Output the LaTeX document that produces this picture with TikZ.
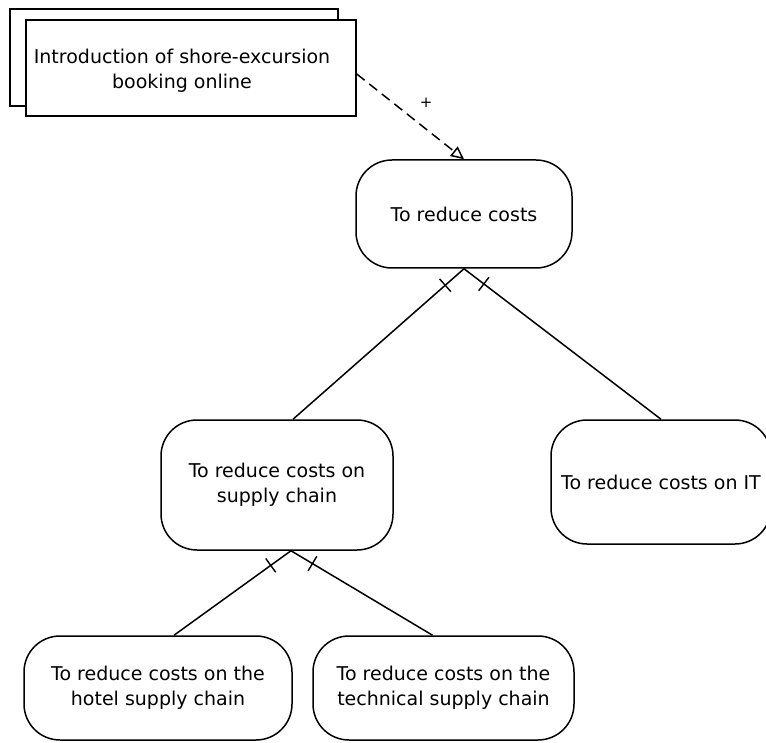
\documentclass[tikz,border=0pt]{standalone}
\usepackage{fontspec}
\setmainfont{DejaVu Sans}
\usetikzlibrary{arrows.meta,decorations.markings}
\begin{document}
\begin{tikzpicture}[x=1pt,y=-1pt, line width=1.5pt,
  lbl/.style={font=\fontsize{19}{25}\selectfont, align=center, inner sep=0pt},
  goal/.style={draw, rounded corners=36pt, lbl, minimum width=#1},
  goal/.default=216pt,
  task/.style={draw, fill=white, inner sep=0pt},
  ticked/.style={decoration={markings, mark=at position 25pt with {\draw[line width=1.4pt] (0,-8.5pt) -- (0,8.5pt);}}, postaction=decorate},
  infl/.style={dashed, dash pattern=on 10pt off 6pt, -{Triangle[open, length=13pt, width=12pt]}}]
\useasboundingbox (0,0) rectangle (766,743);
% task (stacked rectangles)
\node[task, minimum width=328pt, minimum height=97pt] (back) at (174,57.5) {};
\node[task, minimum width=330pt, minimum height=96pt] (front) at (191,68) {};
\node[lbl] (introtext) at (182,71) {Introduction of shore-excursion\\booking online};
% goals
\node[goal=216pt, minimum height=108pt] (top) at (464,214) {To reduce costs};
\node[goal=232pt, minimum height=130pt] (sc) at (277,485) {To reduce costs on\\supply chain};
\node[goal=220pt, minimum height=124pt] (it) at (661,482) {To reduce costs on IT};
\node[goal=268pt, minimum height=104pt] (hotel) at (158,688) {To reduce costs on the\\hotel supply chain};
\node[goal=261pt, minimum height=104pt] (tech) at (443.5,688) {To reduce costs on the\\technical supply chain};
% influence
\draw[infl] ([yshift=-6pt]front.east) -- (top.north) node[pos=0.34, right=26pt, inner sep=0pt, font=\fontsize{15}{15}\selectfont] (plus) {+};
% decompositions
\draw[ticked] (top.south) -- ([xshift=16pt]sc.north);
\draw[ticked] (top.south) -- (it.north);
\draw[ticked] ([xshift=14pt]sc.south) -- ([xshift=16pt]hotel.north);
\draw[ticked] ([xshift=14pt]sc.south) -- ([xshift=-11pt]tech.north);
\end{tikzpicture}
\end{document}
